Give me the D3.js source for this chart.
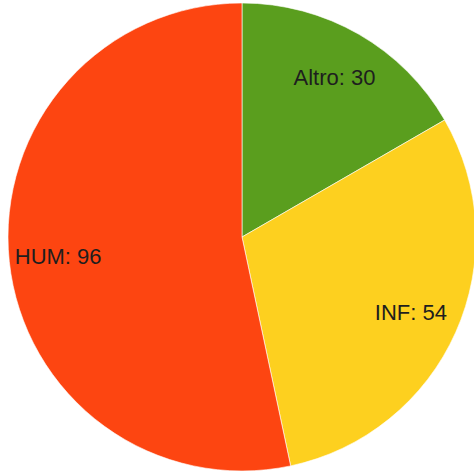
<!DOCTYPE html>
<html>
<head>
<meta charset="utf-8">
<script src="https://cdn.jsdelivr.net/npm/d3@7"></script>
<style>
  body { margin: 0; background: #fff; }
  svg { display: block; }
</style>
</head>
<body>
<svg id="chart"></svg>
<script>
const categories = ['Altro', 'INF', 'HUM'];
const values = [30, 54, 96];
const colors = ['#5a9e1e', '#fdd01f', '#fd4511'];

const width = 474;
const height = 473;
const cx = 242, cy = 237, radius = 234;

const svg = d3.select('#chart')
    .attr('width', width)
    .attr('height', height);

const g = svg.append('g')
    .attr('transform', `translate(${cx},${cy})`);

const pie = d3.pie()
    .sort(null)
    .value(d => d.value);

const data = categories.map((c, i) => ({ name: c, value: values[i], color: colors[i] }));
const arcs = pie(data);

const arc = d3.arc()
    .innerRadius(0)
    .outerRadius(radius);

// labels sit roughly 4/5 of the way out
const labelArc = d3.arc()
    .innerRadius(radius * 0.79)
    .outerRadius(radius * 0.79);

g.selectAll('path.slice')
    .data(arcs)
    .join('path')
    .attr('class', 'slice')
    .attr('d', arc)
    .attr('fill', d => d.data.color)
    .attr('stroke', '#fff')
    .attr('stroke-width', 0.6);

g.selectAll('text.label')
    .data(arcs)
    .join('text')
    .attr('class', 'label')
    .attr('transform', d => `translate(${labelArc.centroid(d)})`)
    .attr('text-anchor', 'middle')
    .attr('dy', '0.35em')
    .style('font-family', '"Liberation Sans", Arial, sans-serif')
    .style('font-size', '22px')
    .style('fill', '#1e1e1e')
    .text(d => `${d.data.name}: ${d.data.value}`);
</script>
</body>
</html>
